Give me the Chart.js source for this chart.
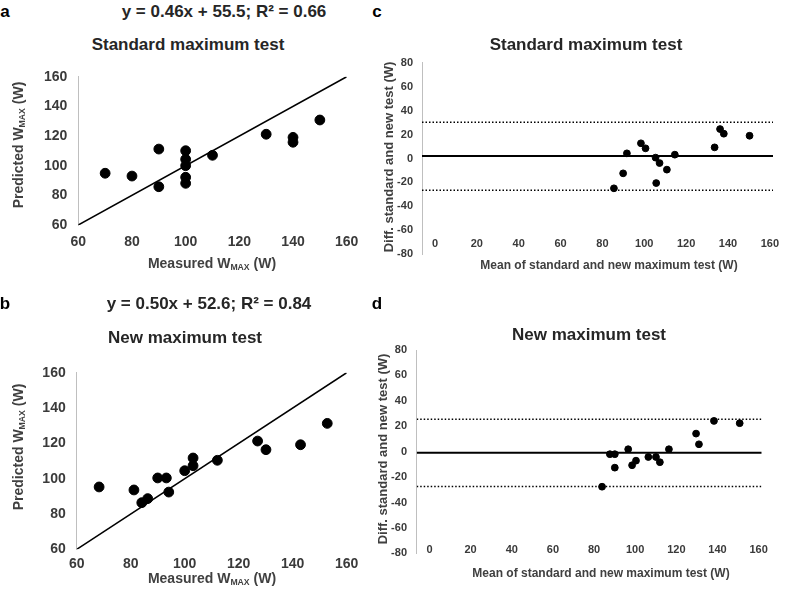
<!DOCTYPE html>
<html><head><meta charset="utf-8">
<script src="https://cdn.jsdelivr.net/npm/chart.js@4"></script>
<style>
body{margin:0;width:800px;height:598px;position:relative;background:#fff;overflow:hidden;font-family:"Liberation Sans",Arial,sans-serif;}
canvas{position:absolute;}
.t{position:absolute;transform:translate(-50%,-50%);white-space:nowrap;font-weight:bold;color:#262626;z-index:2;}
.r{transform:translate(-50%,-50%) rotate(-90deg);}
.big{font-size:17px;}
.ax{font-size:14px;color:#404040;}
.sm{font-size:12px;color:#404040;}
.sm13{font-size:13px;color:#404040;}
sub{font-size:0.62em;vertical-align:-0.2em;line-height:0;}
</style></head><body>
<canvas id="ca" width="370" height="200" style="left:0;top:56px"></canvas>
<canvas id="cb" width="370" height="246" style="left:0;top:352px"></canvas>
<canvas id="cc" width="420" height="230" style="left:380px;top:42px"></canvas>
<canvas id="cd" width="420" height="240" style="left:380px;top:330px"></canvas>

<div class="t big" style="left:5px;top:12px;color:#000">a</div>
<div class="t big" style="left:224px;top:12px">y = 0.46x + 55.5; R² = 0.66</div>
<div class="t big" style="left:377px;top:12px;color:#000">c</div>
<div class="t big" style="left:188px;top:45px">Standard maximum test</div>
<div class="t ax r" style="left:18px;top:145px">Predicted W<sub>MAX</sub> (W)</div>
<div class="t ax" style="left:212px;top:263px">Measured W<sub>MAX</sub> (W)</div>

<div class="t big" style="left:5px;top:304px;color:#000">b</div>
<div class="t big" style="left:209px;top:304px">y = 0.50x + 52.6; R² = 0.84</div>
<div class="t big" style="left:377px;top:304px;color:#000">d</div>
<div class="t big" style="left:185px;top:338px">New maximum test</div>
<div class="t ax r" style="left:18px;top:447px">Predicted W<sub>MAX</sub> (W)</div>
<div class="t ax" style="left:212px;top:578px">Measured W<sub>MAX</sub> (W)</div>

<div class="t big" style="left:586px;top:45px">Standard maximum test</div>
<div class="t sm13 r" style="left:388px;top:157px">Diff. standard and new test (W)</div>
<div class="t sm" style="left:609px;top:265px">Mean of standard and new maximum test (W)</div>

<div class="t big" style="left:589px;top:335px">New maximum test</div>
<div class="t sm13 r" style="left:382px;top:449px">Diff. standard and new test (W)</div>
<div class="t sm" style="left:601px;top:573px">Mean of standard and new maximum test (W)</div>

<script>
// ---- Panel a: standard maximum test (measured vs predicted) ----
const aMeasured  = [70, 80, 90, 90, 100, 100, 100, 100, 100, 110, 130, 140, 140, 150];
const aPredicted = [94.9, 93, 111.2, 85.8, 110.1, 104.3, 100, 92.2, 88.1, 107, 121.2, 119.1, 115.8, 130.8];

// ---- Panel b: new maximum test (measured vs predicted) ----
const bMeasured  = [68.3, 81.2, 84.1, 86.3, 90, 93.2, 94.1, 100, 103.1, 103.1, 112.1, 127, 130.1, 142.9, 152.8];
const bPredicted = [95.3, 93.6, 86.4, 88.7, 100.4, 100.4, 92.4, 104.5, 111.7, 107.3, 110.4, 121.3, 116.4, 119.2, 131.3];

// identity line (y = x)
const identityLine = [60, 160];
const scatterTicks = [60, 80, 100, 120, 140, 160];

// ---- Panel c: Bland-Altman, standard maximum test ----
const cMean = [85.5, 89.9, 91.7, 98.4, 100.6, 105.4, 105.7, 107.3, 110.8, 114.6, 133.6, 136.2, 138, 150.3];
const cDiff = [-24.9, -12.4, 4.3, 12.7, 8.5, 0.7, -20.5, -3.8, -9.3, 3.2, 9.3, 24.6, 20.7, 19];
const cBias = 2.1, cUpper = 30.2, cLower = -26.5;

// ---- Panel d: Bland-Altman, new maximum test ----
const dMean = [83.9, 87.7, 90.1, 90.1, 96.6, 98.5, 100.4, 106.4, 110.1, 112, 116.4, 129.6, 131, 138.3, 150.8];
const dDiff = [-27.6, -2, -2, -12.6, 1.9, -10.7, -7.1, -4.2, -4.2, -8.3, 1.9, 14.2, 5.8, 24.2, 22.4];
const dBias = -0.8, dUpper = 25.5, dLower = -27.5;

const baXRange = [-6.2, 161.5];
const baXTicks = [0, 20, 40, 60, 80, 100, 120, 140, 160];
const baYTicks = [-80, -60, -40, -20, 0, 20, 40, 60, 80];

const FONT = "'Liberation Sans', Arial, sans-serif";
const TICKC = '#3a3a3a';
const AXC = '#bfbfbf';

function pts(xs, ys){ return xs.map((x,i)=>({x:x, y:ys[i]})); }
function setTicks(vals){ return function(s){ s.ticks = vals.map(v=>({value:v})); }; }

function scatterPanel(id, xs, ys, pad, yW, xH, xPad){
  new Chart(document.getElementById(id), {
    type:'scatter',
    data:{datasets:[
      {type:'line', data:pts(identityLine, identityLine), borderColor:'#000', borderWidth:1.5, pointRadius:0, fill:false, order:2},
      {data:pts(xs, ys), backgroundColor:'#000', borderColor:'#000', pointRadius:4.9, pointHoverRadius:4.9, order:1}
    ]},
    options:{
      responsive:false, animation:false, devicePixelRatio:1,
      layout:{padding:pad},
      plugins:{legend:{display:false}, tooltip:{enabled:false}},
      scales:{
        x:{type:'linear', min:60, max:160, afterBuildTicks:setTicks(scatterTicks),
           ticks:{padding:xPad, color:TICKC, font:{family:FONT, size:14, weight:'bold'}},
           grid:{display:false, drawTicks:false}, border:{display:false},
           afterFit:function(s){ s.height = xH; }},
        y:{type:'linear', min:60, max:160, afterBuildTicks:setTicks(scatterTicks),
           ticks:{padding:11, color:TICKC, font:{family:FONT, size:14, weight:'bold'}},
           grid:{display:false, drawTicks:false}, border:{display:true, color:AXC, width:1},
           afterFit:function(s){ s.width = yW; }}
      }
    }
  });
}

function baPanel(id, xs, ys, bias, upper, lower, pad, yW, xH, xPad, yPad){
  const hline = (v)=>pts(baXRange, [v, v]);
  new Chart(document.getElementById(id), {
    type:'scatter',
    data:{datasets:[
      {type:'line', data:hline(bias), borderColor:'#000', borderWidth:2, pointRadius:0, fill:false, order:2},
      {type:'line', data:hline(upper), borderColor:'#000', borderWidth:1.5, borderDash:[1.5,2], pointRadius:0, fill:false, order:2},
      {type:'line', data:hline(lower), borderColor:'#000', borderWidth:1.5, borderDash:[1.5,2], pointRadius:0, fill:false, order:2},
      {data:pts(xs, ys), backgroundColor:'#000', borderColor:'#000', pointRadius:3.4, pointHoverRadius:3.4, order:1}
    ]},
    options:{
      responsive:false, animation:false, devicePixelRatio:1,
      layout:{padding:pad},
      plugins:{legend:{display:false}, tooltip:{enabled:false}},
      scales:{
        x:{type:'linear', min:baXRange[0], max:baXRange[1], afterBuildTicks:setTicks(baXTicks),
           ticks:{mirror:true, padding:xPad, color:TICKC, font:{family:FONT, size:11, weight:'bold'}},
           grid:{display:false, drawTicks:false}, border:{display:false},
           afterFit:function(s){ s.height = xH; }},
        y:{type:'linear', min:-80, max:80, afterBuildTicks:setTicks(baYTicks),
           ticks:{padding:yPad, color:TICKC, font:{family:FONT, size:11, weight:'bold'}},
           grid:{display:false, drawTicks:false}, border:{display:true, color:AXC, width:1},
           afterFit:function(s){ s.width = yW; }}
      }
    }
  });
}

scatterPanel('ca', aMeasured, aPredicted, {top:20.7, right:23.3, left:0, bottom:0}, 78.3, 31, 8.3);
scatterPanel('cb', bMeasured, bPredicted, {top:20.7, right:23.3, left:0, bottom:0}, 76.7, 48.7, 6.3);
baPanel('cc', cMean, cDiff, cBias, cUpper, cLower, {top:20.7, right:27, left:0, bottom:0}, 42, 17.7, 3.7, 9);
baPanel('cd', dMean, dDiff, dBias, dUpper, dLower, {top:20, right:38.3, left:0, bottom:0}, 36.7, 16.7, -3.6, 9.7);
</script>
</body></html>
